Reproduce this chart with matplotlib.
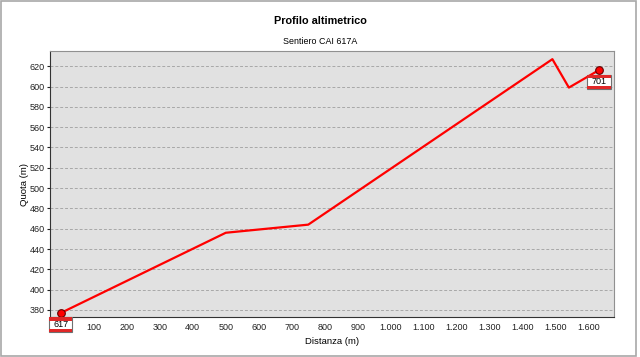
import matplotlib.pyplot as plt
from matplotlib.patches import Rectangle
from matplotlib.ticker import FuncFormatter
from matplotlib.transforms import ScaledTranslation

plt.rcParams['font.family'] = ['Liberation Sans', 'DejaVu Sans']

distanza = [0, 500, 750, 1490, 1540, 1630]
quota = [377, 456, 464, 627, 599, 616]
x_ticks = list(range(100, 1700, 100))
y_ticks = list(range(380, 640, 20))
label_start = '617'
label_end = '701'

fig = plt.figure(figsize=(6.4, 3.57), dpi=100)
fig.patches.append(Rectangle((0.0015, 0.004), 0.993, 0.992, transform=fig.transFigure,
                             fill=False, ec='#a8a8a8', lw=1.2))
ax = fig.add_axes([0.078, 0.112, 0.881, 0.745])
ax.set_facecolor('#e1e1e1')

ax.plot(distanza, quota, color='#ff0000', lw=1.6, zorder=3)
ax.plot([distanza[0], distanza[-1]], [quota[0], quota[-1]], 'o', color='#ff0000',
        mec='#600000', ms=5.5, mew=0.8, zorder=4, clip_on=False)

ax.set_xlim(-33, 1676)
ax.set_ylim(373, 635)
ax.set_xticks(x_ticks)
ax.set_yticks(y_ticks)
ax.xaxis.set_major_formatter(FuncFormatter(lambda v, p: f'{int(v):,}'.replace(',', '.')))
ax.tick_params(labelsize=6.5, colors='#222222', length=2.3, width=0.8, pad=1.5)
ax.tick_params(axis='x', length=0, pad=4)
ax.grid(axis='y', color='#a8a8a8', ls=(0, (3, 2)), lw=0.7)
for s in ax.spines.values():
    s.set_color('#909090')
ax.spines['left'].set_color('#333333')
ax.spines['bottom'].set_color('#333333')


def label_box(x, y, txt, w=0.23, h=0.145, gap=0.045):
    # box hung just below the point, sizes in inches
    tr = fig.dpi_scale_trans + ScaledTranslation(x, y, ax.transData)
    top = -gap
    ax.add_patch(Rectangle((-w / 2, top - h), w, h, transform=tr, fc='white',
                           ec='#707070', lw=0.8, clip_on=False, zorder=6))
    ax.add_patch(Rectangle((-w / 2, top - 0.035), w, 0.035, transform=tr, fc='#e02828',
                           ec='none', clip_on=False, zorder=7))
    ax.add_patch(Rectangle((-w / 2, top - h), w, 0.03, transform=tr, fc='#e02828',
                           ec='none', clip_on=False, zorder=7))
    ax.text(0, top - h / 2 + 0.003, txt, transform=tr, ha='center', va='center',
            fontsize=6.5, zorder=8, clip_on=False)


label_box(distanza[0], quota[0], label_start)
label_box(distanza[-1], quota[-1], label_end, w=0.24)

ax.set_xlabel('Distanza (m)', fontsize=6.8)
ax.set_ylabel('Quota (m)', fontsize=6.8)
ax.xaxis.set_label_coords(0.5, -0.075)
ax.yaxis.set_label_coords(-0.037, 0.5)
fig.text(0.5, 0.94, 'Profilo altimetrico', ha='center', va='center', fontsize=7.8, fontweight='bold')
fig.text(0.5, 0.885, 'Sentiero CAI 617A', ha='center', va='center', fontsize=6.4)

fig.savefig('out.png', dpi=100)
